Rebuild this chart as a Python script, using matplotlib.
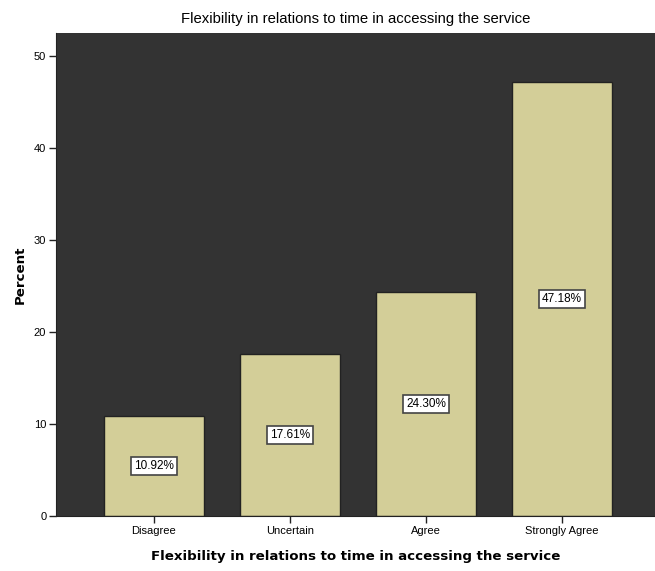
import matplotlib
matplotlib.use("Agg")
import matplotlib.pyplot as plt

categories = ["Disagree", "Uncertain", "Agree", "Strongly Agree"]
percents = [10.92, 17.61, 24.30, 47.18]
title = "Flexibility in relations to time in accessing the service"

fig = plt.figure(figsize=(6.55, 5.71), dpi=100)
ax = fig.add_axes([0.0855, 0.0963, 0.9145, 0.846])
ax.set_facecolor("#333333")

x = range(len(categories))
ax.bar(x, percents, width=0.735, color="#D3CE98", edgecolor="#222222", linewidth=1)

for xi, p in zip(x, percents):
    ax.text(xi, p / 2, f"{p:.2f}%", ha="center", va="center", fontsize=8.5,
            family="Liberation Sans",
            bbox=dict(boxstyle="square,pad=0.25", facecolor="white",
                      edgecolor="#444444", linewidth=1.2))

ax.set_xlim(-0.72, 3.684)
ax.set_ylim(0, 52.5)
ax.set_yticks([0, 10, 20, 30, 40, 50])
ax.set_xticks(list(x))
ax.set_xticklabels(categories, family="Liberation Sans", fontsize=8)
for lbl in ax.get_yticklabels():
    lbl.set_family("Liberation Sans")
    lbl.set_fontsize(8)
ax.tick_params(axis="both", length=5, width=1, color="#222222", pad=2)
for s in ["top", "right"]:
    ax.spines[s].set_visible(False)
for s in ["left", "bottom"]:
    ax.spines[s].set_color("#222222")

ax.set_title(title, family="Liberation Sans", fontsize=10.7, pad=7)
ax.set_xlabel(title, fontsize=9.6, fontweight="bold", labelpad=10)
ax.set_ylabel("Percent", fontsize=9.6, fontweight="bold", labelpad=5)

fig.savefig("out.png", dpi=100)
